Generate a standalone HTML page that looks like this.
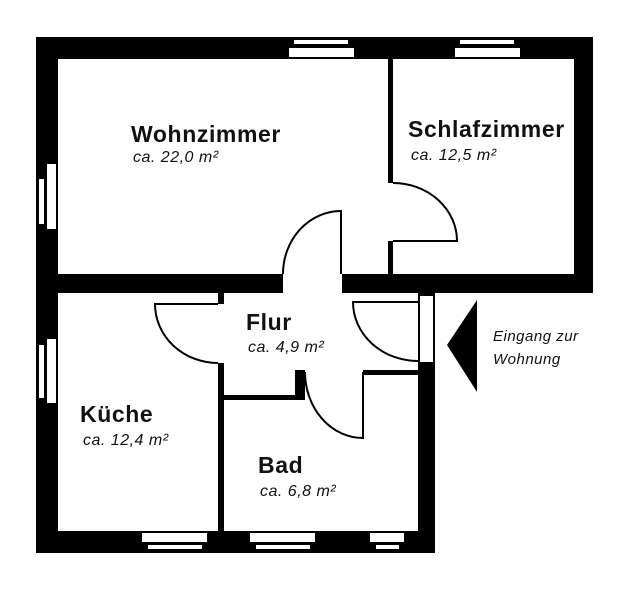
<!DOCTYPE html>
<html><head><meta charset="utf-8"><style>
html,body{margin:0;padding:0;background:#fff;width:627px;height:589px;overflow:hidden}
svg{display:block}
.b{font-family:"Liberation Sans",sans-serif;font-weight:bold;font-size:23px;fill:#111;letter-spacing:0.6px}
.i{font-family:"Liberation Sans",sans-serif;font-style:italic;font-size:16px;fill:#111;letter-spacing:0.5px}
</style></head><body>
<svg width="627" height="589" viewBox="0 0 627 589" xmlns="http://www.w3.org/2000/svg">
<g fill="#000">
<rect x="36" y="37" width="557" height="22"/>
<rect x="36" y="37" width="22" height="516"/>
<rect x="574" y="37" width="19" height="256"/>
<rect x="36" y="274" width="247" height="19"/>
<rect x="342" y="274" width="251" height="19"/>
<rect x="388" y="59" width="5" height="124"/>
<rect x="388" y="241" width="5" height="33"/>
<rect x="36" y="531" width="399" height="22"/>
<rect x="418" y="293" width="17" height="260"/>
<rect x="218" y="293" width="6" height="11"/>
<rect x="218" y="363" width="6" height="168"/>
<rect x="224" y="395" width="81" height="5"/>
<rect x="295" y="370" width="10" height="30"/>
<rect x="363" y="370" width="55" height="5"/>
</g>
<rect x="420" y="296" width="13" height="66" fill="#fff"/>
<rect x="400" y="293" width="18" height="3" fill="#fff"/>
<g fill="#fff">
<rect x="289" y="48" width="65" height="9"/><rect x="294" y="40" width="54" height="4"/>
<rect x="455" y="48" width="65" height="9"/><rect x="460" y="40" width="54" height="4"/>
<rect x="47" y="164" width="9" height="65"/><rect x="39" y="179" width="5" height="45"/>
<rect x="47" y="339" width="9" height="64"/><rect x="39" y="345" width="5" height="53"/>
<rect x="142" y="533" width="65" height="9"/><rect x="148" y="545" width="54" height="4"/>
<rect x="250" y="533" width="65" height="9"/><rect x="256" y="545" width="54" height="4"/>
<rect x="370" y="533" width="34" height="9"/><rect x="376" y="545" width="23" height="4"/>
</g>
<g fill="none" stroke="#000" stroke-width="2">
<path d="M393 183 A64 58 0 0 1 457 241 L393 241"/>
<path d="M341 274 L341 211 A58 63 0 0 0 283 274"/>
<path d="M218 304 L155 304 A63 59 0 0 0 218 363"/>
<path d="M305 372 A58 66 0 0 0 363 438 L363 372"/>
<path d="M418 302 L353 302 A65 59 0 0 0 418 361"/>
</g>
<polygon points="477,300 447,345 477,392" fill="#000"/>
<text class="b" x="131" y="142">Wohnzimmer</text>
<text class="i" x="133" y="162">ca. 22,0 m²</text>
<text class="b" x="408" y="137">Schlafzimmer</text>
<text class="i" x="411" y="160">ca. 12,5 m²</text>
<text class="b" x="246" y="330">Flur</text>
<text class="i" x="248" y="352">ca. 4,9 m²</text>
<text class="b" x="80" y="422">Küche</text>
<text class="i" x="83" y="445">ca. 12,4 m²</text>
<text class="b" x="258" y="473">Bad</text>
<text class="i" x="260" y="496">ca. 6,8 m²</text>
<text class="i" x="493" y="341" style="font-size:15px">Eingang zur</text>
<text class="i" x="493" y="364" style="font-size:15px">Wohnung</text>
</svg>
</body></html>
